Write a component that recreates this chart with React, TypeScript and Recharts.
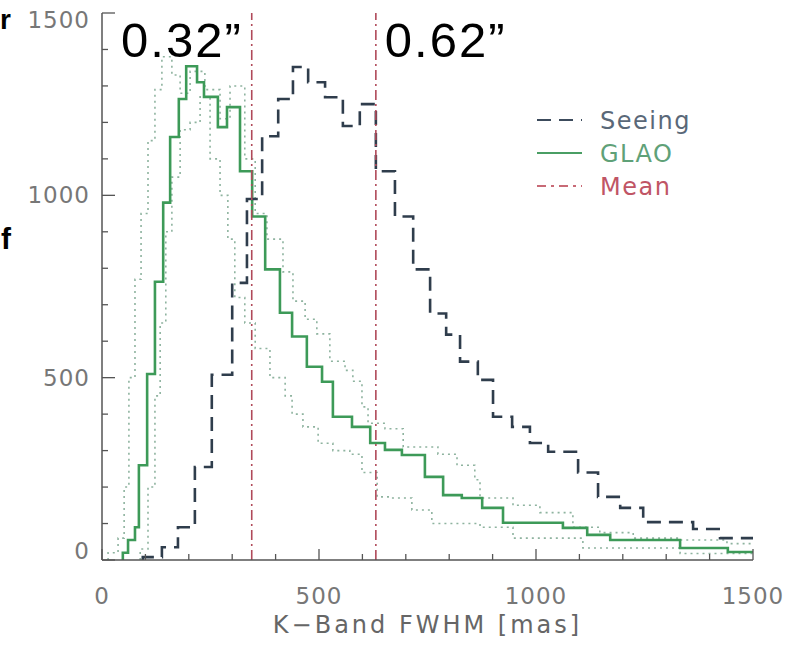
import { LineChart, Line, XAxis, YAxis, ReferenceLine, Legend } from "recharts";

// Histogram bin edges (mas) and counts
const SEEING_EDGES = [94, 138, 175, 214, 253, 300, 334, 369, 406, 440, 475, 514, 555, 594, 631, 675, 717, 756, 793, 825, 866, 901, 945, 986, 1028, 1097, 1143, 1194, 1247, 1362, 1424, 1500];
const SEEING_COUNTS = [8, 35, 90, 255, 508, 760, 990, 1162, 1264, 1352, 1310, 1269, 1190, 1250, 1066, 942, 797, 676, 618, 544, 494, 393, 365, 321, 297, 240, 173, 143, 104, 85, 60];

const GLAO_EDGES = [48, 60, 76, 85, 104, 122, 141, 157, 177, 194, 219, 235, 267, 288, 318, 346, 376, 410, 438, 472, 507, 532, 576, 618, 652, 691, 744, 786, 829, 876, 924, 1062, 1118, 1171, 1332, 1442, 1500];
const GLAO_COUNTS = [20, 55, 90, 260, 510, 763, 980, 1160, 1264, 1354, 1310, 1270, 1187, 1242, 1066, 942, 797, 678, 613, 530, 489, 393, 365, 321, 302, 288, 228, 178, 170, 143, 102, 88, 69, 55, 33, 22];

// dotted envelopes around GLAO
const UPPER_EDGES = [14, 37, 51, 62, 76, 90, 106, 122, 138, 161, 180, 203, 237, 272, 295, 329, 353, 380, 417, 440, 468, 495, 525, 560, 578, 599, 613, 652, 694, 774, 818, 859, 871, 947, 1009, 1085, 1147, 1224, 1332, 1440, 1500];
const UPPER_COUNTS = [20, 60, 200, 500, 770, 950, 1150, 1290, 1380, 1330, 1280, 1340, 1290, 1210, 1300, 1100, 950, 880, 790, 710, 660, 620, 545, 520, 490, 420, 375, 360, 310, 290, 260, 220, 170, 150, 130, 90, 75, 60, 55, 45];

const LOWER_EDGES = [88, 106, 122, 134, 147, 161, 180, 203, 226, 249, 272, 290, 306, 329, 353, 387, 422, 438, 463, 498, 532, 571, 599, 634, 664, 714, 760, 871, 947, 1108, 1332, 1500];
const LOWER_COUNTS = [30, 200, 450, 650, 900, 1050, 1180, 1200, 1270, 1100, 1000, 880, 720, 650, 580, 500, 450, 400, 365, 320, 300, 290, 240, 173, 170, 137, 100, 90, 60, 33, 18];

const MEAN_SEEING = 631;
const MEAN_GLAO = 345;

const X_TICKS = [0, 100, 200, 300, 400, 500, 600, 700, 800, 900, 1000, 1100, 1200, 1300, 1400, 1500];
const Y_TICKS = [0, 100, 200, 300, 400, 500, 600, 700, 800, 900, 1000, 1100, 1200, 1300, 1400, 1500];

function steps(edges: number[], counts: number[]) {
  const pts = [{ x: edges[0], y: 0 }];
  counts.forEach((c, i) => pts.push({ x: edges[i], y: c }));
  pts.push({ x: edges[edges.length - 1], y: counts[counts.length - 1] });
  return pts;
}

const AXIS = "#555";
const LABEL = { fontFamily: "DejaVu Sans", fontSize: 23, fill: "#777", letterSpacing: 1 };

function BottomTick({ x, y, payload }: any) {
  const major = payload.value % 500 === 0;
  return (
    <g>
      <line x1={x} y1={y} x2={x} y2={y - (major ? 11 : 6)} stroke={AXIS} strokeWidth={1.3} />
      {major && <text x={x} y={y + 44} textAnchor="middle" {...LABEL}>{payload.value}</text>}
    </g>
  );
}

function TopTick({ x, y, payload }: any) {
  const major = payload.value % 500 === 0;
  return <line x1={x} y1={y} x2={x} y2={y + (major ? 11 : 6)} stroke={AXIS} strokeWidth={1.3} />;
}

function LeftTick({ x, y, payload }: any) {
  const v = payload.value;
  const major = v % 500 === 0;
  const dy = v === 0 ? -1 : v === 1500 ? 15 : 8;
  return (
    <g>
      <line x1={x} y1={y} x2={x + (major ? 13 : 6)} y2={y} stroke={AXIS} strokeWidth={1.3} />
      {major && <text x={x - 12} y={y + dy} textAnchor="end" {...LABEL}>{v}</text>}
    </g>
  );
}

function RightTick({ x, y, payload }: any) {
  const major = payload.value % 500 === 0;
  return <line x1={x} y1={y} x2={x - (major ? 13 : 6)} y2={y} stroke={AXIS} strokeWidth={1.3} />;
}

const LEGEND_ROWS = [
  { name: "Seeing", color: "#3c4b5c", text: "#5a6878", dash: "14 8" },
  { name: "GLAO", color: "#4a9e64", text: "#5fa178", dash: "" },
  { name: "Mean", color: "#c86a76", text: "#c05565", dash: "9 5 3 5" },
];

function LegendBox() {
  return (
    <svg width={200} height={110}>
      {LEGEND_ROWS.map((r, i) => (
        <g key={r.name}>
          <line x1={7} x2={52} y1={20 + i * 33} y2={20 + i * 33} stroke={r.color} strokeWidth={2.2} strokeDasharray={r.dash} />
          <text x={70} y={29 + i * 33} fontFamily="DejaVu Sans" fontSize={24} letterSpacing={1.5} fill={r.text}>{r.name}</text>
        </g>
      ))}
    </svg>
  );
}

export default function App() {
  return (
    <div style={{ position: "absolute", left: 0, top: 0, width: 805, height: 648, background: "#fff" }}>
      <LineChart width={805} height={648} margin={{ top: 13, right: 52, bottom: 28, left: 12 }}>
        <XAxis
          xAxisId="b" type="number" dataKey="x" domain={[0, 1500]} ticks={X_TICKS}
          orientation="bottom" height={60} tickSize={0} tickMargin={0}
          axisLine={{ stroke: AXIS, strokeWidth: 1.5 }} tick={<BottomTick />}
          label={{ value: "K\u2212Band FWHM [mas]", position: "insideBottom", offset: -13, fontFamily: "DejaVu Sans", fontSize: 24, fill: "#666", letterSpacing: 3 }}
          allowDataOverflow
        />
        <XAxis
          xAxisId="t" type="number" dataKey="x" domain={[0, 1500]} ticks={X_TICKS}
          orientation="top" height={0} tickSize={0} tickMargin={0}
          axisLine={{ stroke: AXIS, strokeWidth: 1.5 }} tick={<TopTick />} allowDataOverflow
        />
        <YAxis
          yAxisId="l" type="number" domain={[0, 1500]} ticks={Y_TICKS} width={90}
          tickSize={0} tickMargin={0} axisLine={{ stroke: AXIS, strokeWidth: 1.5 }}
          tick={<LeftTick />} allowDataOverflow
        />
        <YAxis
          yAxisId="r" orientation="right" type="number" domain={[0, 1500]} ticks={Y_TICKS} width={0}
          tickSize={0} tickMargin={0} axisLine={{ stroke: AXIS, strokeWidth: 1.5 }}
          tick={<RightTick />} allowDataOverflow
        />
        <Legend layout="vertical" align="center" verticalAlign="middle" content={<LegendBox />}
          wrapperStyle={{ left: 530, top: 100, width: 200 }} />

        <Line xAxisId="b" yAxisId="l" data={steps(UPPER_EDGES, UPPER_COUNTS)} dataKey="y" type="stepAfter"
          stroke="#8eb39f" strokeWidth={1.6} strokeDasharray="2 4" dot={false} isAnimationActive={false} legendType="none" />
        <Line xAxisId="b" yAxisId="l" data={steps(LOWER_EDGES, LOWER_COUNTS)} dataKey="y" type="stepAfter"
          stroke="#8eb39f" strokeWidth={1.6} strokeDasharray="2 4" dot={false} isAnimationActive={false} legendType="none" />
        <Line xAxisId="b" yAxisId="l" data={steps(GLAO_EDGES, GLAO_COUNTS)} dataKey="y" type="stepAfter"
          stroke="#3d9a58" strokeWidth={2.6} dot={false} isAnimationActive={false} />
        <Line xAxisId="b" yAxisId="l" data={steps(SEEING_EDGES, SEEING_COUNTS)} dataKey="y" type="stepAfter"
          stroke="#2f3d4c" strokeWidth={2.6} strokeDasharray="14 8" dot={false} isAnimationActive={false} />

        <ReferenceLine xAxisId="b" yAxisId="l" x={MEAN_GLAO} stroke="#b04a5a" strokeWidth={1.6} strokeDasharray="10 4 2 4"
          label={{ value: "0.32\u201d", position: "insideTopRight", offset: 9, fontFamily: "Liberation Sans", fontSize: 49, letterSpacing: 2, fill: "#000" }} />
        <ReferenceLine xAxisId="b" yAxisId="l" x={MEAN_SEEING} stroke="#b04a5a" strokeWidth={1.6} strokeDasharray="10 4 2 4"
          label={{ value: "0.62\u201d", position: "insideTopLeft", offset: 9, fontFamily: "Liberation Sans", fontSize: 49, letterSpacing: 2, fill: "#000" }} />
      </LineChart>
      <div style={{ position: "absolute", left: 0, top: 4, fontFamily: "Liberation Sans", fontWeight: 700, fontSize: 28, color: "#000" }}>r</div>
      <div style={{ position: "absolute", left: 1, top: 222, fontFamily: "Liberation Sans", fontWeight: 700, fontSize: 30, color: "#000" }}>f</div>
    </div>
  );
}
